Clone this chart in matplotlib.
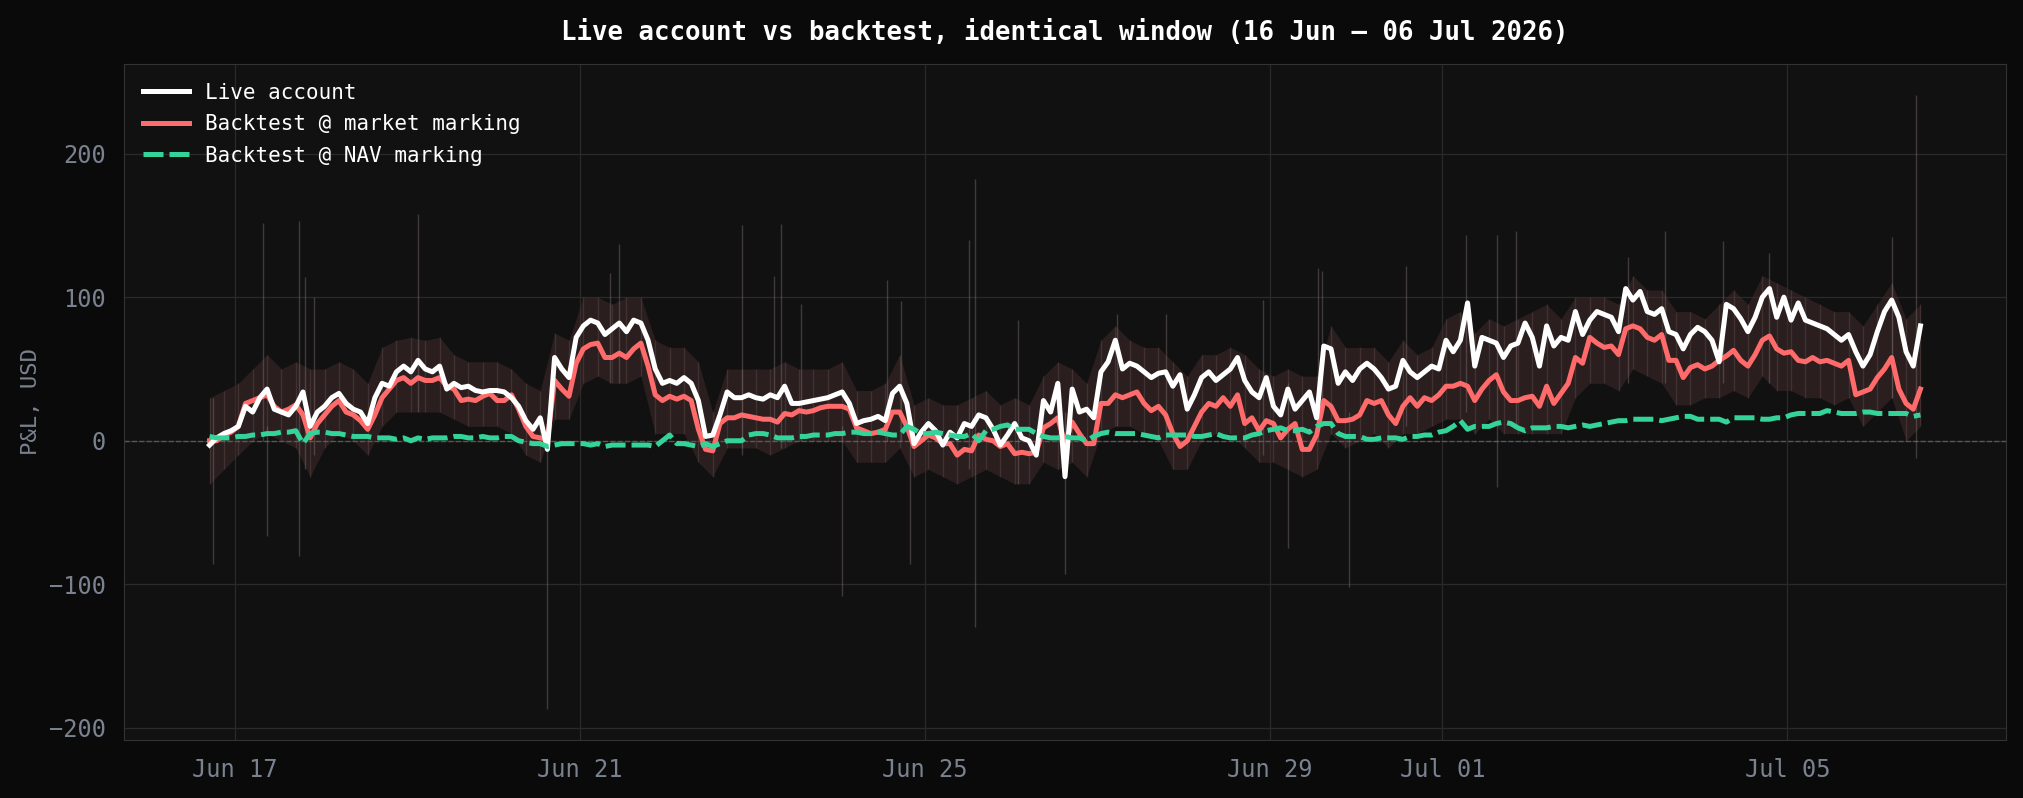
import numpy as np
import matplotlib
matplotlib.use("Agg")
import matplotlib.pyplot as plt
import matplotlib.dates as mdates
from matplotlib.ticker import MultipleLocator

# two-hourly samples, first one at 16 Jun 17:00
start = np.datetime64("2026-06-16T17:00")

live = [
    -3, 2, 5, 7, 10, 24, 20, 30, 36, 22, 20, 18, 24, 34, 10, 20, 24, 30, 33, 26,
    22, 20, 12, 30, 40, 38, 48, 52, 48, 56, 50, 48, 52, 36,
    40, 37, 38, 35, 34, 35, 35, 34, 30, 24, 14, 8, 16, -6, 58, 50, 44, 72, 80, 84,
    82, 74, 78, 82, 76, 84, 82, 70, 50, 40, 42, 40, 44, 40, 28,
    3, 4, 18, 34, 30, 30, 32, 30, 29, 32, 30, 38, 26, 26, 27, 28, 29, 30, 32, 34,
    26, 12, 14, 15, 17, 14, 33, 38, 26, -2, 6, 12, 7, -3,
    6, 2, 12, 10, 18, 16, 8, -3, 4, 12, 2, 0, -10, 28, 20, 40, -25, 36, 20, 22,
    16, 48, 55, 70, 50, 54, 52, 48, 44, 47, 48, 38, 46, 22, 32,
    44, 48, 42, 46, 50, 58, 42, 34, 30, 44, 24, 18, 36, 22, 28, 34, 16, 66, 64, 40,
    48, 42, 50, 54, 50, 44, 36, 38, 56, 48, 44, 48, 52, 50, 70,
    62, 70, 96, 52, 72, 70, 68, 58, 66, 68, 82, 72, 52, 80, 66, 72, 70, 90, 74, 84,
    90, 88, 86, 76, 106, 98, 104, 90, 88, 92, 76, 74, 64, 74, 79,
    76, 70, 55, 95, 92, 85, 76, 86, 100, 106, 86, 100, 84, 96, 84, 82, 80, 78, 74, 70,
    74, 62, 52, 60, 76, 90, 98, 86, 62, 52, 80,
]

market = [
    0, 0, 4, 6, 10, 26, 28, 30, 32, 24, 20, 22, 25, 18, 2, 12, 18, 24, 28, 20,
    18, 14, 8, 18, 30, 36, 42, 44, 40, 44, 42, 42, 44, 38,
    36, 28, 29, 28, 31, 33, 28, 28, 32, 22, 10, 3, 2, 1, 42, 36, 31, 54, 64, 67,
    68, 58, 58, 61, 58, 64, 68, 52, 32, 28, 31, 29, 31, 28, 8,
    -6, -7, 12, 16, 16, 18, 17, 16, 15, 15, 13, 19, 18, 21, 20, 21, 23, 24, 24, 24,
    22, 9, 7, 5, 6, 8, 20, 20, 10, -4, 0, 4, 2, -2,
    -2, -10, -6, -7, 4, 1, 0, -4, -2, -9, -8, -9, -8, 9, 12, 16, -2, 13, 5, -2,
    -2, 26, 26, 32, 30, 32, 34, 26, 21, 24, 18, 5, -4, 0, 10,
    20, 26, 24, 30, 24, 32, 12, 16, 7, 14, 12, 2, 8, 12, -6, -6, 4, 28, 24, 14,
    14, 15, 18, 28, 26, 28, 18, 12, 24, 30, 24, 30, 28, 32, 38,
    38, 40, 38, 28, 36, 42, 46, 34, 28, 28, 30, 31, 24, 38, 26, 33, 40, 58, 54, 72,
    68, 65, 66, 60, 78, 80, 78, 72, 70, 74, 56, 56, 44, 51, 53,
    50, 52, 56, 59, 63, 56, 52, 60, 70, 73, 64, 61, 62, 56, 55, 58, 55, 56, 54, 52,
    56, 32, 34, 36, 44, 50, 58, 36, 26, 22, 36,
]

nav = [
    3, 2, 2, 2, 3, 3, 4, 4, 5, 5, 6, 6, 7, -2, 5, 6, 6, 5, 5, 4,
    3, 3, 3, 2, 2, 2, 1, 2, 0, 2, 1, 2, 2, 2,
    3, 3, 2, 2, 3, 2, 2, 3, 3, 0, -1, -2, -2, -4, -3, -2, -2, -2, -2, -3,
    -2, -4, -3, -3, -3, -3, -3, -3, -4, 0, 4, -2, -2, -3, -4,
    -2, -4, -2, 0, 0, 0, 4, 5, 5, 4, 2, 2, 2, 3, 3, 4, 4, 4, 5, 5,
    6, 6, 5, 5, 6, 5, 4, 4, 10, 8, 5, 5, 6, 5,
    4, 3, 3, 5, 0, 7, 8, 10, 11, 8, 8, 8, 5, 3, 2, 2, 3, 2, 2, 0,
    3, 5, 6, 5, 5, 5, 5, 4, 3, 2, 4, 4, 4, 4, 3,
    3, 4, 5, 3, 2, 2, 2, 4, 5, 7, 8, 9, 7, 7, 8, 6, 10, 12, 12, 5,
    3, 3, 3, 1, 1, 2, 2, 2, 1, 3, 3, 4, 4, 6, 7,
    10, 14, 8, 10, 10, 10, 12, 13, 12, 9, 7, 9, 9, 9, 10, 10, 9, 10, 11, 10,
    11, 12, 13, 14, 14, 15, 15, 15, 15, 14, 15, 16, 17, 17, 15,
    15, 15, 15, 13, 16, 16, 16, 16, 15, 15, 16, 16, 18, 19, 19, 19, 19, 21, 20, 19,
    19, 19, 20, 20, 19, 19, 19, 19, 19, 17, 18,
]

# raw tick-level spread, four-hourly upper / lower edge of the haze
raw_hi = [
    30, 35, 40, 50, 60, 50, 55, 50, 50, 55, 50, 40, 65, 70, 72, 70, 72,
    60, 55, 55, 55, 50, 40, 35, 75, 70, 100, 100, 95, 100, 100, 70, 65, 65, 55,
    20, 50, 50, 50, 50, 55, 50, 50, 50, 55, 35, 35, 40, 60, 25, 30, 25,
    25, 30, 35, 25, 30, 25, 45, 55, 50, 40, 70, 80, 70, 65, 65, 55, 45,
    60, 60, 65, 60, 50, 45, 50, 45, 45, 80, 65, 65, 65, 55, 70, 60, 65, 85,
    90, 75, 85, 80, 85, 90, 95, 85, 100, 100, 100, 95, 115, 105, 105, 90, 90,
    85, 95, 105, 95, 115, 110, 105, 100, 95, 90, 90, 80, 95, 110, 85, 95,
]
raw_lo = [
    -30, -20, -10, 0, 5, 0, -5, -25, -5, 5, 0, -10, 10, 20, 20, 20, 20,
    15, 10, 10, 10, 5, -10, -15, 15, 15, 40, 45, 40, 40, 45, 5, 5, 5, -15,
    -25, -5, -5, -5, -10, -5, 0, 0, 0, 0, -15, -15, -15, -5, -25, -20, -25,
    -30, -25, -20, -25, -30, -30, -15, -20, -15, -25, 5, 10, 10, 5, 0, -20, -20,
    0, 5, 5, -5, -15, -15, -20, -25, -20, 5, -5, 0, 5, -5, 5, 5, 10, 15,
    15, 5, 15, 5, 5, 5, 5, 5, 30, 40, 40, 35, 50, 45, 40, 25, 25,
    30, 30, 35, 30, 45, 35, 35, 30, 30, 25, 30, 10, 20, 30, 0, 10,
]

# isolated tall prints: hours after start, low end, high end
spike_h = [1, 15, 16, 25, 26.5, 29, 58, 94, 111.5, 114, 148, 157, 159, 164.5,
           176, 188.5, 192.3, 195, 211.3, 213, 225, 238, 252.5, 266, 293, 300,
           308.3, 309.5, 317, 333, 349.5, 358.3, 363.4, 394.6, 405, 421, 434,
           468, 474.8]
spike_lo = [-86, 0, -66, -80, -20, -10, 20, -187, 40, 40, -10, 0, -5, 0,
            -108, 0, 0, -86, -20, -130, -30, -93, 10, 0, -10, -75,
            0, 20, -102, 10, 20, -32, 10, 40, 40, 40, 40,
            30, -12]
spike_hi = [30, 152, 10, 153, 114, 100, 158, 10, 117, 137, 150, 115, 151, 95,
            10, 112, 97, 20, 140, 182, 84, 20, 88, 88, 98, 40,
            120, 118, 20, 122, 143, 143, 146, 128, 146, 139, 131,
            142, 241]

assert len(live) == len(market) == len(nav) == 239
assert len(raw_hi) == len(raw_lo) == 120

t2 = start + (np.arange(len(live)) * 120).astype("timedelta64[m]")
t4 = start + (np.arange(len(raw_hi)) * 240).astype("timedelta64[m]")
ts = start + (np.array(spike_h) * 60).astype(int).astype("timedelta64[m]")

BG = "#0a0a0a"
AX = "#111111"
GRID = "#2a2a2a"
TXT = "#7a8290"
RED = "#ff6b6b"
GREEN = "#34d399"

plt.rcParams["font.family"] = ["DejaVu Sans Mono", "DejaVu Sans"]

fig = plt.figure(figsize=(20.23, 7.98), dpi=100, facecolor=BG)
ax = fig.add_axes([124 / 2023, 1 - 740 / 798, (2006 - 124) / 2023, (740 - 64) / 798])
ax.set_facecolor(AX)

# haze of raw prints
ax.fill_between(t4, raw_lo, raw_hi, color="#4a2e2e", alpha=0.45, lw=0, zorder=1)
ax.vlines(t4, raw_lo, raw_hi, color="#8a6a6a", alpha=0.25, lw=1.0, zorder=1)
ax.vlines(ts, spike_lo, spike_hi, color="#8a7a7a", alpha=0.4, lw=1.0, zorder=1)

ax.axhline(0, color="#777777", ls="--", lw=1.0, alpha=0.6, zorder=2)

ax.plot(t2, market, color=RED, lw=3.6, label="Backtest @ market marking", zorder=3)
ax.plot(t2, live, color="#ffffff", lw=3.6, label="Live account", zorder=4)
ax.plot(t2, nav, color=GREEN, lw=3.6, ls=(0, (4, 1.2)), label="Backtest @ NAV marking",
        zorder=5)

ax.xaxis.set_major_locator(mdates.DayLocator(bymonthday=range(1, 32, 4)))
ax.xaxis.set_major_formatter(mdates.DateFormatter("%b %d"))
ax.yaxis.set_major_locator(MultipleLocator(100))

ax.grid(True, color=GRID, lw=0.9)
ax.set_axisbelow(True)
for s in ax.spines.values():
    s.set_color("#333333")
ax.tick_params(colors=TXT, labelsize=17, length=0, pad=13)
ax.set_ylabel("P&L, USD", color=TXT, fontsize=16, labelpad=6)
ax.set_title("Live account vs backtest, identical window (16 Jun \u2013 06 Jul 2026)",
             color="#ffffff", fontsize=18.5, fontweight="bold", pad=17)

h, l = ax.get_legend_handles_labels()
order = [1, 0, 2]
leg = ax.legend([h[i] for i in order], [l[i] for i in order], loc="upper left",
                frameon=False, fontsize=15, labelcolor="#ffffff", handlelength=2.2,
                labelspacing=0.55)

fig.savefig("out.png", dpi=100, facecolor=BG)
